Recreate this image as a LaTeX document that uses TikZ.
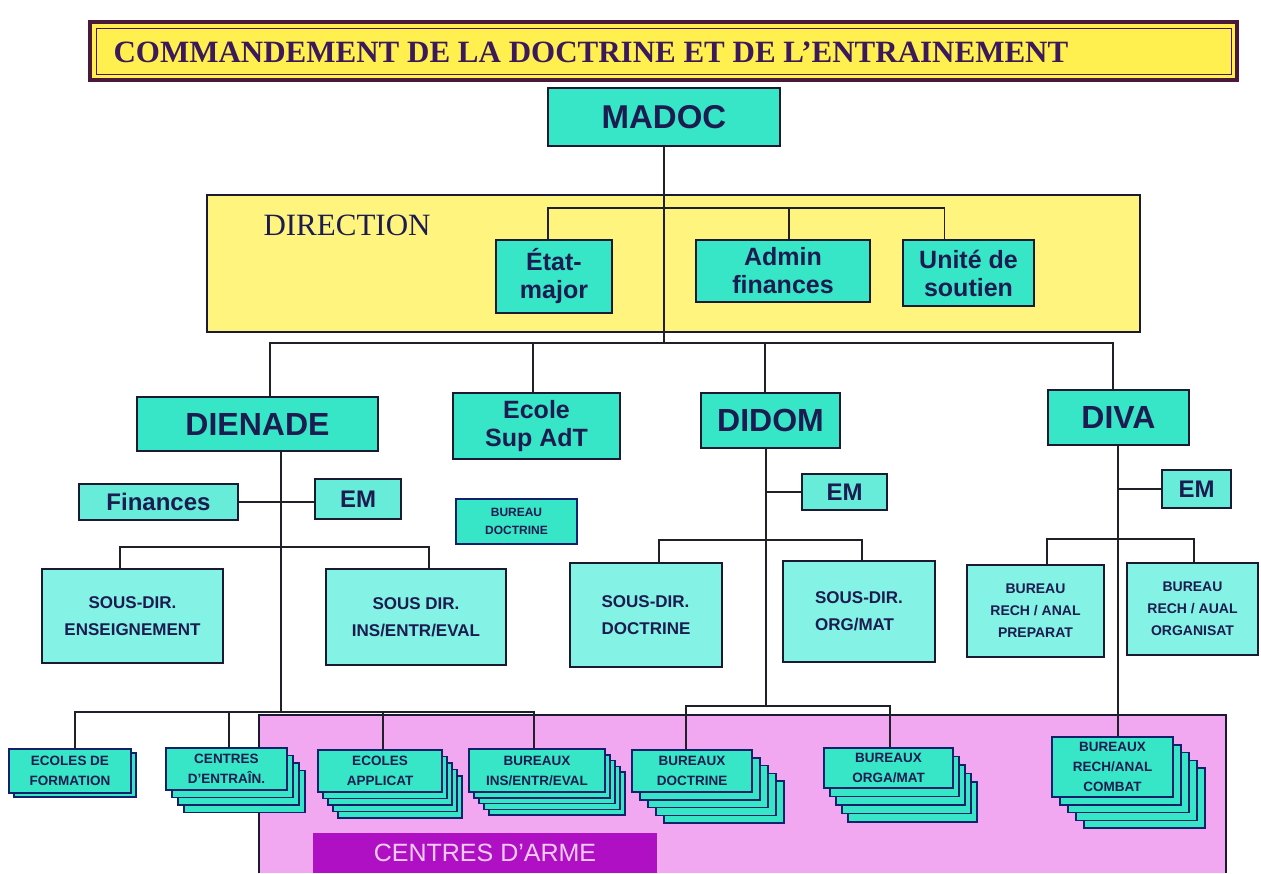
\documentclass[tikz,border=0pt]{standalone}
\usepackage{fontspec}
\setmainfont{Liberation Sans}
\newfontfamily\serifft{Liberation Serif}
\definecolor{tealA}{HTML}{36E6C6}
\definecolor{tealB}{HTML}{84F2E4}
\definecolor{tealC}{HTML}{66ECD8}
\definecolor{navy}{HTML}{1C1C50}
\definecolor{linec}{HTML}{202028}
\definecolor{boxline}{HTML}{1A1A34}
\definecolor{layerline}{HTML}{10206A}
\definecolor{yellowA}{HTML}{FFF050}
\definecolor{yellowB}{HTML}{FFF47E}
\definecolor{titleb}{HTML}{4A1838}
\definecolor{titletext}{HTML}{3A1A5A}
\definecolor{pinkc}{HTML}{F2A8F0}
\definecolor{purplec}{HTML}{B010C4}
\definecolor{pinktext}{HTML}{F8CCF8}
\newcommand{\bx}[7]{\node[#6, minimum width={(#4-#2)*1pt}, minimum height={(#5-#3)*1pt}] (#1) at ({(#2+#4)/2},{(#3+#5)/2}) {#7};}
\newcommand{\stk}[9]{\foreach \k in {#6,...,1}{\draw[layer] ({#2+\k*#7},{#3+\k*#8}) rectangle ({#4+\k*#7},{#5+\k*#8});}\bx{#1}{#2}{#3}{#4}{#5}{smallbox}{#9}}
\tikzset{
  conn/.style={draw=linec, line width=1.8pt},
  basebox/.style={draw=boxline, line width=1.8pt, fill=tealA, text=navy, inner sep=0pt, align=center},
  bigbox/.style={basebox, font=\bfseries\fontsize{33}{36}\selectfont},
  midbox/.style={basebox, font=\bfseries\fontsize{25}{28}\selectfont},
  embox/.style={basebox, fill=tealC, font=\bfseries\fontsize{24}{28}\selectfont},
  sdbox/.style={basebox, fill=tealB, font=\bfseries\fontsize{17}{27}\selectfont},
  rbox/.style={basebox, fill=tealB, font=\bfseries\fontsize{14}{22}\selectfont},
  smallbox/.style={basebox, draw=layerline, font=\bfseries\fontsize{13.5}{20}\selectfont},
  layer/.style={draw=layerline, fill=tealA, line width=1.5pt},
}
\begin{document}
\begin{tikzpicture}[x=1pt,y=-1pt]
\useasboundingbox[fill=white] (0,0) rectangle (1261,873);
% title banner
\bx{titlebox}{90}{22}{1237}{80}{draw=titleb, line width=4pt, fill=yellowA}{}
\draw[titleb, line width=0.8pt] (96,28) rectangle (1231,74);
\node[anchor=west, text=titletext, font=\serifft\bfseries\fontsize{31}{34}\selectfont] (title) at (110,52) {COMMANDEMENT DE LA DOCTRINE ET DE L’ENTRAINEMENT};
% direction box
\bx{direction}{207}{195}{1140}{332}{draw=boxline, line width=1.8pt, fill=yellowB}{}
\node[anchor=west, text=navy, font=\serifft\fontsize{31}{34}\selectfont] (dirlabel) at (260,225) {DIRECTION};
% pink region
\fill[pinkc] (259,715) rectangle (1226,873);
\draw[boxline, line width=1.8pt] (259,873) -- (259,715) -- (1226,715) -- (1226,873);
\bx{arme}{313}{833}{657}{873}{fill=purplec, inner sep=0pt, text=pinktext, font=\fontsize{25}{28}\selectfont}{CENTRES D'ARME}
% top boxes
\bx{madoc}{548}{88}{780}{146}{bigbox}{MADOC}
\bx{etat}{496}{240}{612}{313}{midbox}{État-\\major}
\bx{admin}{696}{240}{870}{302}{midbox}{Admin\\finances}
\bx{unite}{903}{240}{1034}{306}{midbox}{Unité de\\soutien}
\bx{dienade}{137}{397}{378}{451}{bigbox, font=\bfseries\fontsize{32}{36}\selectfont}{DIENADE}
\bx{ecole}{453}{393}{620}{459}{midbox}{Ecole\\Sup AdT}
\bx{didom}{701}{393}{840}{448}{bigbox, font=\bfseries\fontsize{32}{36}\selectfont}{DIDOM}
\bx{diva}{1048}{390}{1189}{445}{bigbox, font=\bfseries\fontsize{32}{36}\selectfont}{DIVA}
% second level
\bx{fin}{79}{484}{238}{520}{embox}{Finances}
\bx{em1}{315}{479}{401}{519}{embox}{EM}
\bx{bdoc}{456}{499}{577}{544}{smallbox, font=\bfseries\fontsize{12}{18}\selectfont}{BUREAU\\DOCTRINE}
\bx{em2}{802}{474}{887}{510}{embox}{EM}
\bx{em3}{1162}{470}{1231}{508}{embox}{EM}
\bx{sd1}{42}{569}{223}{663}{sdbox}{SOUS-DIR.\\ENSEIGNEMENT}
\bx{sd2}{326}{569}{506}{665}{sdbox}{SOUS DIR.\\INS/ENTR/EVAL}
\bx{sdd}{570}{563}{722}{667}{sdbox, align=left}{SOUS-DIR.\\DOCTRINE}
\bx{sdo}{783}{561}{935}{662}{sdbox, align=left}{SOUS-DIR.\\ORG/MAT}
\bx{bp}{967}{565}{1104}{657}{rbox}{BUREAU\\RECH / ANAL\\PREPARAT}
\bx{bo2}{1127}{563}{1258}{655}{rbox}{BUREAU\\RECH / AUAL\\ORGANISAT}
% stacked boxes
\stk{ef}{9}{749}{131}{793}{1}{5}{4}{ECOLES DE\\FORMATION}
\stk{ce}{166}{748}{287}{790}{3}{6}{7.5}{CENTRES\\D'ENTRAÎN.}
\stk{ea}{318}{750}{442}{792}{4}{5}{6.5}{ECOLES\\APPLICAT}
\stk{bi}{469}{749}{605}{792}{4}{5}{5.75}{BUREAUX\\INS/ENTR/EVAL}
\stk{bd}{632}{750}{752}{792}{4}{8}{7.75}{BUREAUX\\DOCTRINE}
\stk{bo}{824}{748}{953}{788}{4}{6}{8.5}{BUREAUX\\ORGA/MAT}
\stk{combat}{1052}{737}{1173}{797}{4}{8}{7.75}{BUREAUX\\RECH/ANAL\\COMBAT}
% junction coordinates
\coordinate (dbar) at (664,208);
\coordinate (tbar) at (664,343);
\coordinate (dsd) at (281,547);
\coordinate (dbot) at (281,712);
\coordinate (msd) at (766,540);
\coordinate (mbot) at (766,706);
\coordinate (vsd) at (1118,539);
% connectors: direction
\draw[conn] ([xshift=-6pt]etat.north) |- (dbar);
\draw[conn] ([xshift=6pt]admin.north) |- (dbar);
\draw[conn] ([xshift=-24pt]unite.north) |- (dbar);
\draw[conn] (madoc.south) -- (tbar);
% top level
\draw[conn] ([xshift=12.5pt]dienade.north) |- (tbar);
\draw[conn] ([xshift=-3.5pt]ecole.north) |- (tbar);
\draw[conn] ([xshift=-5.5pt]didom.north) |- (tbar);
\draw[conn] ([xshift=-5.5pt]diva.north) |- (tbar);
% DIENADE
\draw[conn] ([xshift=23.5pt]dienade.south) -- (dbot);
\draw[conn] (fin.east) -- (fin.east -| em1.west);
\draw[conn] ([xshift=-12.5pt]sd1.north) |- (dsd);
\draw[conn] ([xshift=13pt]sd2.north) |- (dsd);
\draw[conn] ([xshift=5pt]ef.north) |- (dbot);
\draw[conn] ([xshift=2.5pt]ce.north) |- (dbot);
\draw[conn] ([xshift=3pt]ea.north) |- (dbot);
\draw[conn] ([xshift=-3pt]bi.north) |- (dbot);
% DIDOM
\draw[conn] ([xshift=-4.5pt]didom.south) -- (mbot);
\draw[conn] (em2.west) -- (em2.west -| mbot);
\draw[conn] ([xshift=13pt]sdd.north) |- (msd);
\draw[conn] ([xshift=3pt]sdo.north) |- (msd);
\draw[conn] ([xshift=-6pt]bd.north) |- (mbot);
\draw[conn] ([xshift=1.5pt]bo.north) |- (mbot);
% DIVA
\draw[conn] ([xshift=-0.5pt]diva.south) -- ([xshift=-0.5pt]diva.south |- combat.north);
\draw[conn] (em3.west) -- (em3.west -| vsd);
\draw[conn] ([xshift=11.5pt]bp.north) |- (vsd);
\draw[conn] ([xshift=1.5pt]bo2.north) |- (vsd);
\end{tikzpicture}
\end{document}
